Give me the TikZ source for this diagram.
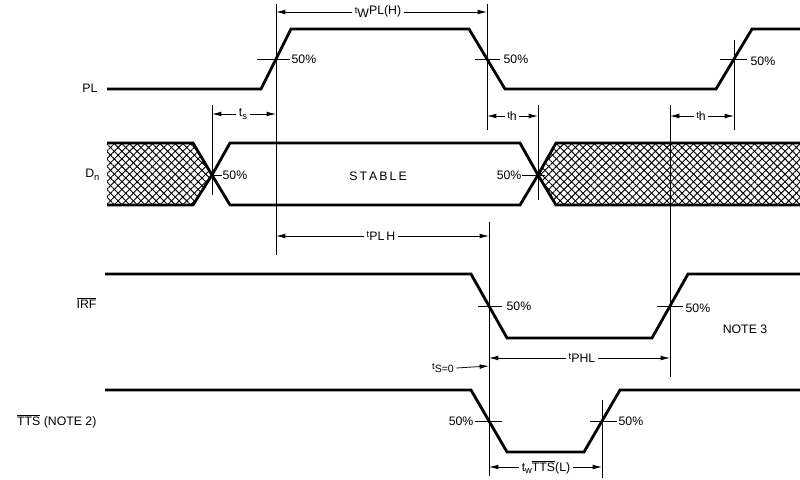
\documentclass[tikz,border=0pt]{standalone}
\usepackage{fontspec}
\setmainfont{Liberation Sans}
\usetikzlibrary{arrows.meta,patterns.meta}
\newcommand{\smallsz}{\fontsize{8}{9}\selectfont}
\begin{document}
\begin{tikzpicture}[x=0.3mm,y=-0.3mm,
  sig/.style={line width=2.4pt},
  thinl/.style={line width=0.65pt},
  arr/.style={line width=0.65pt,-{Latex[length=8pt,width=4pt]}},
  txt/.style={font=\fontsize{10.5}{12}\selectfont, inner sep=2pt},
  hatchA/.style={pattern={Lines[angle=45,distance=4.6pt,line width=0.8pt]}},
  hatchB/.style={pattern={Lines[angle=-45,distance=4.6pt,line width=0.8pt]}}]
\useasboundingbox (0,0) rectangle (800,479);

% ---------- hatched (don't care) regions of Dn
\path[hatchA] (107,143) -- (193,143) -- (212,175) -- (193,205) -- (107,205) -- cycle;
\path[hatchB] (107,143) -- (193,143) -- (212,175) -- (193,205) -- (107,205) -- cycle;
\path[hatchA] (800,143) -- (556,143) -- (538,175) -- (556,205) -- (800,205) -- cycle;
\path[hatchB] (800,143) -- (556,143) -- (538,175) -- (556,205) -- (800,205) -- cycle;

% ---------- waveforms
\draw[sig] (107,89) -- (261,89) -- (291,29) -- (469,29) -- (505,89) -- (716,89) -- (752,29) -- (800,29);
\draw[sig] (107,143) -- (193,143) -- (212,175) -- (230,205) -- (520,205) -- (538,175) -- (556,143) -- (800,143);
\draw[sig] (107,205) -- (193,205) -- (212,175) -- (230,143) -- (520,143) -- (538,175) -- (556,205) -- (800,205);
\draw[sig] (105,274) -- (471,274) -- (507,338) -- (652,338) -- (688,274) -- (800,274);
\draw[sig] (105,390) -- (471,390) -- (507,452) -- (584,452) -- (620,390) -- (800,390);

% ---------- reference verticals
\draw[thinl] (276,4) -- (276,255);
\draw[thinl] (487,4) -- (487,130);
\draw[thinl] (212,105) -- (212,195);
\draw[thinl] (538,105) -- (538,200);
\draw[thinl] (670,105) -- (670,377);
\draw[thinl] (734,40) -- (734,130);
\draw[thinl] (489,222) -- (489,476);
\draw[thinl] (602,400) -- (602,478);

% ---------- 50% ticks and labels
\draw[thinl] (257,59) -- (290,59);
\node[txt,anchor=west] (p1) at (289,59) {50\%};
\draw[thinl] (475,59) -- (500,59);
\node[txt,anchor=west] (p2) at (501,59) {50\%};
\draw[thinl] (720,59) -- (747,59);
\node[txt,anchor=west] (p3) at (748,61) {50\%};
\draw[thinl] (212,175) -- (222,175);
\node[txt,anchor=west] (d1) at (220,175) {50\%};
\draw[thinl] (522,175) -- (545,175);
\node[txt,anchor=east] (d2) at (524,175) {50\%};
\draw[thinl] (478,306) -- (502,306);
\node[txt,anchor=west] (i1) at (504,306) {50\%};
\draw[thinl] (657,306) -- (683,306);
\node[txt,anchor=west] (i2) at (683,308) {50\%};
\draw[thinl] (475,421) -- (502,421);
\node[txt,anchor=east] (s1) at (476,421) {50\%};
\draw[thinl] (590,421) -- (617,421);
\node[txt,anchor=west] (s2) at (616,421) {50\%};

% ---------- other texts
\node[txt] (stable) at (378,176) {S\,T\,A\,B\,L\,E};
\node[txt] (note3) at (745,329) {NOTE 3};
\node[txt,anchor=east] (lPL) at (100,88) {PL};
\node[txt,anchor=east] (lDn) at (102,175) {D\raisebox{-2.5pt}{\smallsz n}};
\node[txt,anchor=east] (lIRF) at (99,303) {$\overline{\mbox{IRF}}$};
\node[txt,anchor=east] (lTTS) at (99,421) {$\overline{\mbox{TTS}}$ (NOTE 2)};

% ---------- dimension arrows
\coordinate (twL) at (276,12);  \coordinate (twR) at (487,12);
\node[txt] (tw) at (378,12) {\raisebox{1.5pt}{\smallsz t}\raisebox{-2.5pt}{W}PL(H)};
\draw[arr] (tw.west) -- (twL);
\draw[arr] (tw.east) -- (twR);

\coordinate (tsL) at (212,114); \coordinate (tsR) at (276,114);
\node[txt] (ts) at (243,114) {t\raisebox{-2.5pt}{\smallsz s}};
\draw[arr] (ts.west) -- (tsL);
\draw[arr] (ts.east) -- (tsR);

\coordinate (th1L) at (487,116); \coordinate (th1R) at (538,116);
\node[txt] (th1) at (512,116) {\raisebox{2pt}{\smallsz t}h};
\draw[arr] (th1.west) -- (th1L);
\draw[arr] (th1.east) -- (th1R);

\coordinate (th2L) at (670,116); \coordinate (th2R) at (734,116);
\node[txt] (th2) at (701,116) {\raisebox{2pt}{\smallsz t}h};
\draw[arr] (th2.west) -- (th2L);
\draw[arr] (th2.east) -- (th2R);

\coordinate (plhL) at (276,236); \coordinate (plhR) at (489,236);
\node[txt] (plh) at (381,236) {\raisebox{2pt}{\smallsz t}PL\,H};
\draw[arr] (plh.west) -- (plhL);
\draw[arr] (plh.east) -- (plhR);

\coordinate (phlL) at (489,358); \coordinate (phlR) at (670,358);
\node[txt] (phl) at (582,358) {\raisebox{2pt}{\smallsz t}PHL};
\draw[arr] (phl.west) -- (phlL);
\draw[arr] (phl.east) -- (phlR);

\coordinate (ts0R) at (489,366);
\node[txt] (ts0) at (443,368) {\raisebox{2pt}{\smallsz t}{\fontsize{9}{10}\selectfont S=0}};
\draw[arr] (ts0.east) -- (ts0R);

\coordinate (wtL) at (489,467); \coordinate (wtR) at (602,467);
\node[txt] (wt) at (546,467) {t\raisebox{-2.5pt}{\smallsz w}$\overline{\mbox{TTS}}$(L)};
\draw[arr] (wt.west) -- (wtL);
\draw[arr] (wt.east) -- (wtR);
\end{tikzpicture}
\end{document}
